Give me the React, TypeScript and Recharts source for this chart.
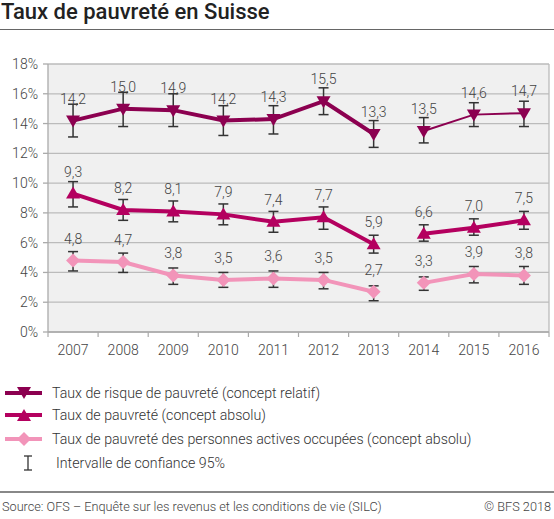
import { ComposedChart, Line, XAxis, YAxis, CartesianGrid, ErrorBar, LabelList, ReferenceLine } from 'recharts';

const years = [2007, 2008, 2009, 2010, 2011, 2012, 2013, 2014, 2015, 2016];
// method change: lines are broken between 2013 and 2014
const breakYear = 2014;

const relatif = [14.2, 15.0, 14.9, 14.2, 14.3, 15.5, 13.3, 13.5, 14.6, 14.7];
const relatifLo = [13.1, 13.8, 13.8, 13.2, 13.3, 14.6, 12.4, 12.7, 13.8, 13.8];
const relatifHi = [15.3, 16.1, 16.0, 15.2, 15.2, 16.4, 14.2, 14.4, 15.4, 15.5];

const absolu = [9.3, 8.2, 8.1, 7.9, 7.4, 7.7, 5.9, 6.6, 7.0, 7.5];
const absoluLo = [8.4, 7.5, 7.4, 7.2, 6.7, 6.9, 5.3, 6.1, 6.5, 6.9];
const absoluHi = [10.1, 8.9, 8.8, 8.6, 8.1, 8.4, 6.5, 7.2, 7.6, 8.1];

const actifs = [4.8, 4.7, 3.8, 3.5, 3.6, 3.5, 2.7, 3.3, 3.9, 3.8];
const actifsLo = [4.1, 4.0, 3.2, 3.0, 3.0, 2.9, 2.1, 2.8, 3.3, 3.2];
const actifsHi = [5.4, 5.3, 4.3, 4.0, 4.1, 4.0, 3.1, 3.7, 4.4, 4.4];

const yTicks = [0, 2, 4, 6, 8, 10, 12, 14, 16, 18];

const C_REL = '#8c0050';
const C_ABS = '#b4005f';
const C_ACT = '#f294b9';
const TXT = '#444';

const data = years.map((year, i) => ({
  year,
  rel: relatif[i],
  relA: year < breakYear ? relatif[i] : null,
  relB: year >= breakYear ? relatif[i] : null,
  relErr: [relatif[i] - relatifLo[i], relatifHi[i] - relatif[i]],
  abs: absolu[i],
  absA: year < breakYear ? absolu[i] : null,
  absB: year >= breakYear ? absolu[i] : null,
  absErr: [absolu[i] - absoluLo[i], absoluHi[i] - absolu[i]],
  act: actifs[i],
  actA: year < breakYear ? actifs[i] : null,
  actB: year >= breakYear ? actifs[i] : null,
  actErr: [actifs[i] - actifsLo[i], actifsHi[i] - actifs[i]],
}));

// year labels plus tick marks on the half-years between them
const xTicks = [...years.flatMap(y => [y - 0.5, y]), years[years.length - 1] + 0.5];

const fmt = (v: any) => Number(v).toFixed(1).replace('.', ',');

const XTick = ({ x, y, payload }: any) => {
  if (Number.isInteger(payload.value)) {
    return (
      <text x={x} y={y + 23} textAnchor="middle" fill={TXT} fontSize={14} fontWeight={300}>
        {payload.value}
      </text>
    );
  }
  return <line x1={x} y1={y} x2={x} y2={y + 5} stroke="#aaa" strokeWidth={1.2} />;
};

const DownTri = ({ cx, cy, fill }: any) =>
  cx == null ? null : <path d={`M${cx - 7},${cy - 5} L${cx + 7},${cy - 5} L${cx},${cy + 7} Z`} fill={fill} />;
const UpTri = ({ cx, cy, fill }: any) =>
  cx == null ? null : <path d={`M${cx - 7},${cy + 5} L${cx + 7},${cy + 5} L${cx},${cy - 7} Z`} fill={fill} />;
const Diamond = ({ cx, cy, fill }: any) =>
  cx == null ? null : <path d={`M${cx},${cy - 7} L${cx + 7},${cy} L${cx},${cy + 7} L${cx - 7},${cy} Z`} fill={fill} />;

const labelStyle = { fill: TXT, fontSize: 14, fontWeight: 300 };
const legendText = { marginLeft: 4, fontSize: 14.2, fontWeight: 300, color: '#333' };

function LegendRow({ top, color, marker, text }: any) {
  return (
    <div style={{ position: 'absolute', left: 0, top: top - 10, height: 20, display: 'flex', alignItems: 'center' }}>
      <svg width={48} height={20}>
        <line x1={5} y1={10} x2={42} y2={10} stroke={color} strokeWidth={4} />
        {marker === 'down' && <DownTri cx={24} cy={9} fill={color} />}
        {marker === 'up' && <UpTri cx={24} cy={11} fill={color} />}
        {marker === 'diamond' && <Diamond cx={24} cy={10} fill={color} />}
      </svg>
      <span style={legendText}>{text}</span>
    </div>
  );
}

export default function App() {
  return (
    <div style={{ position: 'absolute', left: 0, top: 0, width: 554, height: 519, fontFamily: 'Roboto, sans-serif', background: '#fff' }}>
      <div style={{ position: 'absolute', left: 1, top: -1, fontSize: 22, fontWeight: 500, color: '#222', whiteSpace: 'nowrap' }}>
        Taux de pauvreté en Suisse
      </div>
      <div style={{ position: 'absolute', left: 0, top: 28.5, width: 554, height: 1.5, background: '#666' }} />

      <div style={{ position: 'absolute', left: 0, top: 0 }}>
        <ComposedChart width={554} height={370} data={data} margin={{ top: 64, right: 5, left: 0, bottom: 8 }}>
          <CartesianGrid vertical={false} stroke="#bbb" strokeWidth={1.3} fill="#f0f0f0" />
          <XAxis
            type="number"
            dataKey="year"
            domain={[2006.5, 2016.5]}
            ticks={xTicks}
            interval={0}
            tick={<XTick />}
            tickLine={false}
            tickSize={0}
            tickMargin={0}
            height={30}
            stroke="#aaa"
            strokeWidth={1.3}
          />
          <YAxis
            domain={[0, 18]}
            ticks={yTicks}
            tickFormatter={v => `${v}%`}
            width={48}
            tickSize={5}
            tickMargin={5}
            tick={{ fill: TXT, fontSize: 14, fontWeight: 300 }}
            stroke="#aaa"
            strokeWidth={1.3}
          />
          <ReferenceLine x={2016.5} stroke="#bbb" strokeWidth={1.3} />

          <Line dataKey="relA" stroke={C_REL} strokeWidth={4} dot={false} isAnimationActive={false} />
          <Line dataKey="relB" stroke={C_REL} strokeWidth={2} dot={false} isAnimationActive={false} />
          <Line dataKey="absA" stroke={C_ABS} strokeWidth={4} dot={false} isAnimationActive={false} />
          <Line dataKey="absB" stroke={C_ABS} strokeWidth={4} dot={false} isAnimationActive={false} />
          <Line dataKey="actA" stroke={C_ACT} strokeWidth={4} dot={false} isAnimationActive={false} />
          <Line dataKey="actB" stroke={C_ACT} strokeWidth={4} dot={false} isAnimationActive={false} />

          <Line dataKey="rel" stroke="none" fill={C_REL} dot={<DownTri fill={C_REL} />} isAnimationActive={false}>
            <ErrorBar dataKey="relErr" width={5} stroke="#333" strokeWidth={1.5} />
            <LabelList dataKey="rel" position="top" offset={17} formatter={fmt} style={labelStyle} />
          </Line>
          <Line dataKey="abs" stroke="none" fill={C_ABS} dot={<UpTri fill={C_ABS} />} isAnimationActive={false}>
            <ErrorBar dataKey="absErr" width={5} stroke="#333" strokeWidth={1.5} />
            <LabelList dataKey="abs" position="top" offset={17} formatter={fmt} style={labelStyle} />
          </Line>
          <Line dataKey="act" stroke="none" fill={C_ACT} dot={<Diamond fill={C_ACT} />} isAnimationActive={false}>
            <ErrorBar dataKey="actErr" width={5} stroke="#333" strokeWidth={1.5} />
            <LabelList dataKey="act" position="top" offset={17} formatter={fmt} style={labelStyle} />
          </Line>
        </ComposedChart>
      </div>

      <LegendRow top={393} color={C_REL} marker="down" text="Taux de risque de pauvreté (concept relatif)" />
      <LegendRow top={415} color={C_ABS} marker="up" text="Taux de pauvreté (concept absolu)" />
      <LegendRow top={439} color={C_ACT} marker="diamond" text="Taux de pauvreté des personnes actives occupées (concept absolu)" />
      <div style={{ position: 'absolute', left: 0, top: 453, height: 20, display: 'flex', alignItems: 'center' }}>
        <svg width={52} height={20}>
          <line x1={28} y1={3} x2={28} y2={17} stroke="#333" strokeWidth={1.3} />
          <line x1={24} y1={3} x2={32} y2={3} stroke="#333" strokeWidth={1.3} />
          <line x1={24} y1={17} x2={32} y2={17} stroke="#333" strokeWidth={1.3} />
        </svg>
        <span style={legendText}>Intervalle de confiance 95%</span>
      </div>

      <div style={{ position: 'absolute', left: 0, top: 491, width: 554, height: 1.5, background: '#888' }} />
      <div style={{ position: 'absolute', left: 2, top: 499, fontSize: 12.7, fontWeight: 300, color: '#444', whiteSpace: 'nowrap' }}>
        Source: OFS – Enquête sur les revenus et les conditions de vie (SILC)
      </div>
      <div style={{ position: 'absolute', right: 3, top: 499, fontSize: 12.7, fontWeight: 300, color: '#444', whiteSpace: 'nowrap' }}>
        © BFS 2018
      </div>
    </div>
  );
}
